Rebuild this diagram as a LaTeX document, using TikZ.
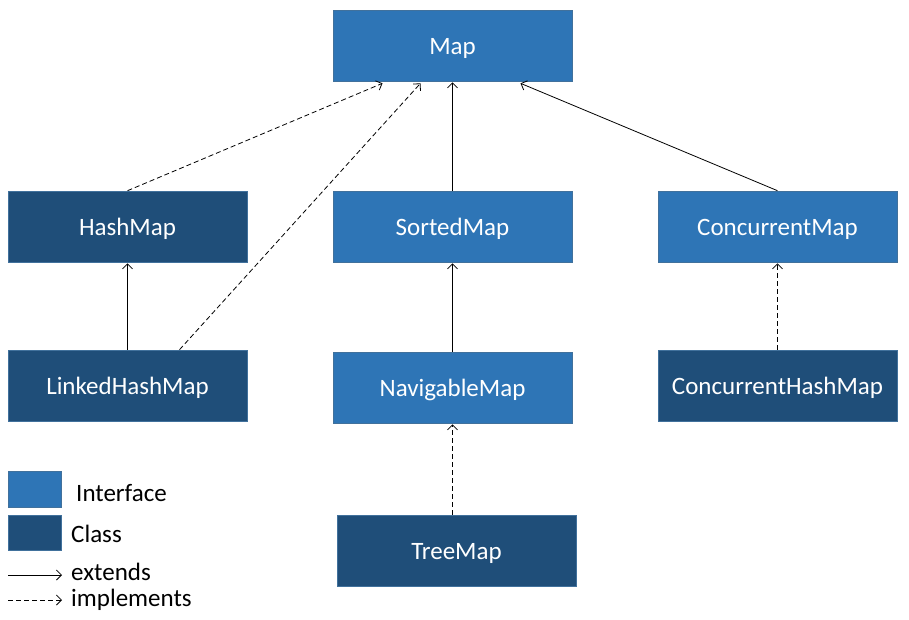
\documentclass[tikz,border=0pt]{standalone}
\usepackage{fontspec}
\setmainfont{Carlito}
\usetikzlibrary{arrows.meta}
\definecolor{iface}{HTML}{2E75B6}
\definecolor{cls}{HTML}{1F4E79}
\definecolor{edge}{HTML}{41719C}
\tikzset{
  box/.style={draw=edge, line width=0.6pt, minimum width=239pt, minimum height=71pt, inner sep=0pt, text=white, text height=20pt, text depth=1.6pt, font=\fontsize{25}{30}\selectfont},
  ibox/.style={box, fill=iface},
  cbox/.style={box, fill=cls},
  ext/.style={line width=0.8pt, -{Straight Barb[length=5pt,width=10pt]}},
  impl/.style={ext, dash pattern=on 5pt off 3pt},
  lgd/.style={anchor=west, inner sep=0pt, font=\fontsize{25}{30}\selectfont}
}
\begin{document}
\begin{tikzpicture}[x=1pt,y=-1pt]
\useasboundingbox (0,0) rectangle (909,619);
\node[ibox] (map) at (452.5,45.5) {Map};
\node[cbox] (hash) at (127.5,226.5) {HashMap};
\node[ibox] (sorted) at (452.5,226.5) {SortedMap};
\node[ibox] (conc) at (777.5,226.5) {ConcurrentMap};
\node[cbox] (linked) at (127.5,385.5) {LinkedHashMap};
\node[ibox] (nav) at (452.5,387.5) {NavigableMap};
\node[cbox] (chm) at (777.5,385.5) {ConcurrentHashMap};
\node[cbox] (tree) at (456.5,550.5) {TreeMap};
% connectors
\draw[impl] (hash.north) -- ([xshift=-70pt,yshift=-2pt]map.south);
\draw[impl] ([xshift=52pt]linked.north) -- ([xshift=-32pt,yshift=-2pt]map.south);
\draw[ext] (sorted.north) -- ([yshift=-1pt]map.south);
\draw[ext] (conc.north) -- ([xshift=68pt,yshift=-2pt]map.south);
\draw[ext] (linked.north) -- ([yshift=-1pt]hash.south);
\draw[ext] (nav.north) -- ([yshift=-1pt]sorted.south);
\draw[impl] ([xshift=-4pt]tree.north) -- ([yshift=-1pt]nav.south);
\draw[impl] (chm.north) -- ([yshift=-1pt]conc.south);
% legend
\node[draw=edge, line width=0.6pt, fill=iface, minimum width=53pt, minimum height=36pt, inner sep=0pt] (li) at (34.5,489) {};
\node[draw=edge, line width=0.6pt, fill=cls, minimum width=53pt, minimum height=35pt, inner sep=0pt] (lc) at (34.5,532.5) {};
\node[lgd] (ti) at (76,493) {Interface};
\node[lgd] (tc) at (71,534) {Class};
\coordinate (e1) at (8,575);
\coordinate (e2) at (62,575);
\coordinate (i1) at (8,600);
\coordinate (i2) at (62,600);
\draw[ext] (e1) -- (e2);
\draw[impl] (i1) -- (i2);
\node[lgd] (te) at (71,572) {extends};
\node[lgd] (tim) at (71,600) {implements};
\end{tikzpicture}
\end{document}
